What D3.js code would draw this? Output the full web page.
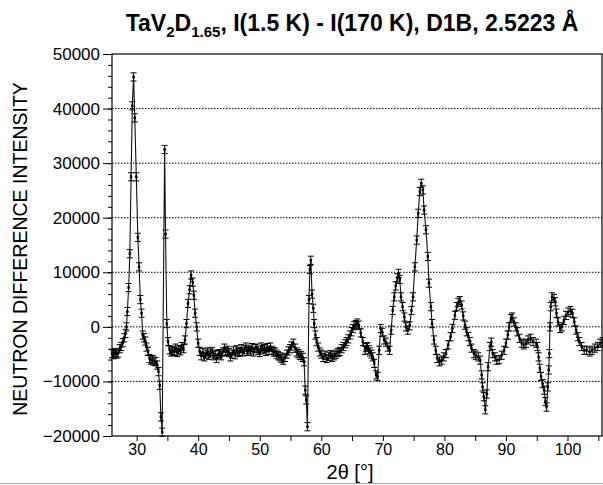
<!DOCTYPE html>
<html>
<head>
<meta charset="utf-8">
<script src="https://cdn.jsdelivr.net/npm/d3@7.9.0/dist/d3.min.js"></script>
<style>
  body { margin: 0; background: #fff; }
  svg { display: block; font-family: "Liberation Sans", Arial, Helvetica, sans-serif; }
</style>
</head>
<body>
<svg id="chart" width="603" height="485"></svg>
<script>
// --- data (2theta in degrees, intensity difference)
const twoTheta = [
  26.0, 26.25, 26.5, 26.75, 27.0, 27.25, 27.5, 27.75, 28.0, 28.2,
  28.35, 28.5, 28.7, 28.9, 29.1, 29.3, 29.5, 29.7, 29.95, 30.2,
  30.4, 30.6, 30.8, 31.0, 31.2, 31.4, 31.6, 31.85, 32.1, 32.35,
  32.6, 32.85, 33.1, 33.35, 33.55, 33.75, 33.95, 34.15, 34.55, 34.7,
  34.9, 35.1, 35.35, 35.6, 35.85, 36.1, 36.35, 36.6, 36.85, 37.1,
  37.35, 37.6, 37.85, 38.1, 38.35, 38.6, 38.85, 39.1, 39.3, 39.5,
  39.75, 40.0, 40.25, 40.5, 40.75, 41.0, 41.25, 41.5, 41.75, 42.0,
  42.25, 42.5, 42.75, 43.0, 43.25, 43.5, 43.75, 44.0, 44.25, 44.5,
  44.75, 45.0, 45.25, 45.5, 45.75, 46.0, 46.25, 46.5, 46.75, 47.0,
  47.25, 47.5, 47.75, 48.0, 48.25, 48.5, 48.75, 49.0, 49.25, 49.5,
  49.75, 50.0, 50.25, 50.5, 50.75, 51.0, 51.25, 51.5, 51.75, 52.0,
  52.25, 52.5, 52.75, 53.0, 53.3, 53.55, 53.8, 54.1, 54.4, 54.65,
  54.9, 55.15, 55.45, 55.75, 56.0, 56.25, 56.5, 56.75, 57.0, 57.2,
  57.4, 57.55, 57.75, 58.0, 58.15, 58.3, 58.5, 58.7, 58.85, 59.05,
  59.25, 59.5, 59.75, 60.0, 60.3, 60.6, 60.9, 61.2, 61.5, 61.8,
  62.1, 62.4, 62.7, 63.0, 63.3, 63.6, 63.9, 64.1, 64.4, 64.7,
  64.9, 65.1, 65.35, 65.6, 65.85, 66.1, 66.4, 66.75, 67.1, 67.3,
  67.5, 67.7, 67.9, 68.15, 68.35, 68.6, 68.9, 69.15, 69.4, 69.65,
  69.9, 70.2, 70.5, 70.8, 71.1, 71.35, 71.6, 71.85, 72.1, 72.35,
  72.55, 72.75, 72.95, 73.2, 73.5, 73.75, 74.05, 74.35, 74.65, 74.9,
  75.2, 75.5, 75.75, 76.0, 76.25, 76.5, 76.7, 77.0, 77.3, 77.5,
  77.8, 78.0, 78.3, 78.6, 78.85, 79.2, 79.55, 79.9, 80.25, 80.6,
  81.0, 81.3, 81.7, 82.0, 82.25, 82.5, 82.8, 83.05, 83.35, 83.6,
  83.9, 84.15, 84.4, 84.8, 85.1, 85.5, 85.8, 86.05, 86.2, 86.4,
  86.65, 86.9, 87.1, 87.4, 87.6, 87.85, 88.2, 88.5, 88.9, 89.3,
  89.7, 90.0, 90.3, 90.5, 90.8, 91.0, 91.3, 91.6, 91.85, 92.2,
  92.55, 92.9, 93.25, 93.6, 94.0, 94.4, 94.9, 95.1, 95.3, 95.5,
  95.7, 95.95, 96.2, 96.4, 96.6, 96.8, 96.95, 97.05, 97.15, 97.27,
  97.5, 97.8, 98.0, 98.2, 98.45, 98.8, 99.1, 99.4, 99.75, 100.1,
  100.5, 100.8, 101.1, 101.4, 101.65, 101.9, 102.3, 102.7, 103.1, 103.6,
  104.0, 104.45, 104.9, 105.3, 105.7
];
const intensity = [
  -4900, -5100, -4700, -5000, -4800, -4000, -3600, -2900, -2000, -1200,
  0, 2800, 7200, 13400, 27500, 40500, 45800, 38300, 27500, 16400,
  11000, 5000, 2500, -1500, -2000, -2600, -3700, -4500, -5800, -6100,
  -6000, -6300, -6400, -7000, -8200, -10700, -16500, -19300, 32500, 17000,
  600, -2700, -4200, -4600, -4300, -4500, -3900, -4700, -4200, -4400,
  -3600, -4000, -2400, 600, 4300, 6800, 9500, 8200, 5800, 2500,
  0, -3000, -4500, -5300, -4700, -5500, -5000, -4600, -5200, -4800,
  -4500, -5300, -5000, -5800, -5100, -4900, -5300, -4600, -3900, -4500,
  -4300, -4700, -5500, -5000, -4400, -5100, -4200, -4700, -4500, -4000,
  -4600, -4200, -3700, -4500, -4100, -4400, -3800, -4600, -4000, -3900,
  -4300, -4700, -3700, -4200, -4000, -4500, -3800, -4300, -3700, -4300,
  -4600, -4600, -5000, -5300, -5500, -5800, -6100, -5600, -5000, -4400,
  -4000, -3500, -3000, -3900, -4600, -4900, -5200, -5300, -5600, -6400,
  -11600, -13400, -18300, 5000, 10500, 12200, 6000, 3400, 600, -1500,
  -2700, -3700, -4600, -5000, -5600, -5200, -5800, -5400, -5100, -5600,
  -5300, -5000, -4700, -4500, -4000, -3600, -3100, -2700, -2200, -1500,
  -900, -300, 200, 400, 700, 300, -1100, -2700, -4300, -3800,
  -3600, -4200, -4600, -5000, -5500, -6700, -8800, -9100, -4300, -300,
  -1000, -2400, -2800, -3700, -4300, -600, 3000, 5500, 7500, 9000,
  9800, 8700, 5500, 3700, 1800, 0, -600, 200, 3000, 5500,
  11000, 15900, 20800, 24800, 26300, 25100, 21400, 17800, 12900, 8000,
  3700, 600, -2400, -4300, -5800, -6400, -6100, -5500, -4900, -3300,
  -1800, -300, 2100, 3700, 4500, 4800, 4000, 2000, 300, -900,
  -1800, -2700, -3900, -4900, -5200, -5500, -6100, -8800, -11000, -12800,
  -15200, -12300, -7300, -3600, -2800, -4900, -5500, -6100, -6000, -5200,
  -4300, -3000, -1500, 0, 1500, 1800, 900, 0, -900, -2100,
  -3000, -3300, -3000, -2400, -2100, -2700, -3000, -3600, -5500, -7600,
  -9100, -10400, -11600, -13700, -14700, -11000, -7900, -4900, 0, 3700,
  5500, 5200, 4600, 2500, 900, -300, 0, 1200, 2100, 2700,
  3000, 2500, 900, -600, -1800, -2700, -3600, -4300, -4300, -4600,
  -4300, -3900, -3600, -3000, -2700
];
const errorHalf = 750;   // error bar half-height, roughly constant in the picture

const xTickValues = [30, 35, 40, 45, 50, 55, 60, 65, 70, 75, 80, 85, 90, 95, 100, 105];
const yTickValues = [-20000, -10000, 0, 10000, 20000, 30000, 40000, 50000];
const yMinorValues = d3.range(-20000, 50001, 2000);
const gridValues = [-10000, 0, 10000, 20000, 30000, 40000];

const points = twoTheta.map((t, i) => ({ t, v: intensity[i] }));

// --- layout
const svg = d3.select('#chart');
const plotLeft = 112, plotRight = 602, plotTop = 54, plotBottom = 436;

const x = d3.scaleLinear().domain([26, 105.6]).range([plotLeft, plotRight]);
const y = d3.scaleLinear().domain([-20000, 50000]).range([plotBottom, plotTop]);

// dotted grid lines
svg.append('g')
  .selectAll('line')
  .data(gridValues)
  .join('line')
  .attr('x1', plotLeft).attr('x2', plotRight)
  .attr('y1', d => y(d)).attr('y2', d => y(d))
  .attr('stroke', '#000')
  .attr('stroke-width', 1)
  .attr('stroke-dasharray', '1.5,1.5');

// y axis: minor + major ticks
svg.append('g')
  .attr('transform', `translate(${plotLeft},0)`)
  .call(d3.axisLeft(y).tickValues(yMinorValues).tickSize(4).tickFormat(''))
  .call(g => g.select('.domain').remove())
  .selectAll('line').attr('stroke', '#000');

const yAxis = svg.append('g')
  .attr('transform', `translate(${plotLeft},0)`)
  .call(d3.axisLeft(y).tickValues(yTickValues).tickSize(9).tickPadding(3).tickFormat(d3.format('d')));
yAxis.select('.domain').remove();
yAxis.selectAll('line').attr('stroke', '#000');
yAxis.selectAll('text')
  .attr('fill', '#000')
  .style('font-size', '17px')
  .style('font-family', '"Liberation Sans", Arial, sans-serif');

// x axis
const xAxis = svg.append('g')
  .attr('transform', `translate(0,${plotBottom})`)
  .call(d3.axisBottom(x).tickValues(xTickValues).tickSize(5).tickPadding(3)
    .tickFormat(d => d % 10 === 0 ? d : ''));
xAxis.select('.domain').remove();
xAxis.selectAll('line').attr('stroke', '#000');
xAxis.selectAll('text')
  .attr('fill', '#000')
  .style('font-size', '16px')
  .style('font-family', '"Liberation Sans", Arial, sans-serif');

// frame
svg.append('rect')
  .attr('x', plotLeft).attr('y', plotTop)
  .attr('width', plotRight - plotLeft).attr('height', plotBottom - plotTop)
  .attr('fill', 'none')
  .attr('stroke', '#000')
  .attr('stroke-width', 1.2);

// data line
const line = d3.line().x(d => x(d.t)).y(d => y(d.v));
svg.append('path')
  .datum(points)
  .attr('d', line)
  .attr('fill', 'none')
  .attr('stroke', '#111')
  .attr('stroke-width', 1.1);

// error bars
const bars = svg.append('g').attr('stroke', '#000').attr('stroke-width', 1);
bars.selectAll('line.eb')
  .data(points)
  .join('line')
  .attr('class', 'eb')
  .attr('x1', d => x(d.t)).attr('x2', d => x(d.t))
  .attr('y1', d => y(d.v - errorHalf)).attr('y2', d => y(d.v + errorHalf));
bars.selectAll('line.capTop')
  .data(points)
  .join('line')
  .attr('class', 'capTop')
  .attr('x1', d => x(d.t) - 3).attr('x2', d => x(d.t) + 3)
  .attr('y1', d => y(d.v + errorHalf)).attr('y2', d => y(d.v + errorHalf));
bars.selectAll('line.capBot')
  .data(points)
  .join('line')
  .attr('class', 'capBot')
  .attr('x1', d => x(d.t) - 3).attr('x2', d => x(d.t) + 3)
  .attr('y1', d => y(d.v - errorHalf)).attr('y2', d => y(d.v - errorHalf));

// point markers
svg.append('g')
  .selectAll('rect')
  .data(points)
  .join('rect')
  .attr('x', d => x(d.t) - 1.25).attr('y', d => y(d.v) - 1.25)
  .attr('width', 2.5).attr('height', 2.5)
  .attr('fill', '#000');

// title with subscripts
const title = svg.append('text')
  .attr('x', 352).attr('y', 31)
  .attr('text-anchor', 'middle')
  .style('font-size', '23px')
  .style('font-weight', 'bold')
  .attr('fill', '#000');
title.append('tspan').text('TaV');
title.append('tspan').attr('dy', 6).style('font-size', '15px').text('2');
title.append('tspan').attr('dy', -6).text('D');
title.append('tspan').attr('dy', 6).style('font-size', '15px').text('1.65');
title.append('tspan').attr('dy', -6).text(', I(1.5 K) - I(170 K), D1B, 2.5223 Å');

// axis titles
svg.append('text')
  .attr('transform', 'translate(27,249) rotate(-90)')
  .attr('text-anchor', 'middle')
  .style('font-size', '19.5px')
  .attr('fill', '#000')
  .text('NEUTRON DIFFERENCE INTENSITY');

svg.append('text')
  .attr('x', 350).attr('y', 479)
  .attr('text-anchor', 'middle')
  .style('font-size', '20px')
  .attr('fill', '#000')
  .text('2θ [°]');

// light rule at the bottom of the page
svg.append('line')
  .attr('x1', 0).attr('x2', 603)
  .attr('y1', 483.5).attr('y2', 483.5)
  .attr('stroke', '#aaa')
  .attr('stroke-width', 1);
</script>
</body>
</html>
